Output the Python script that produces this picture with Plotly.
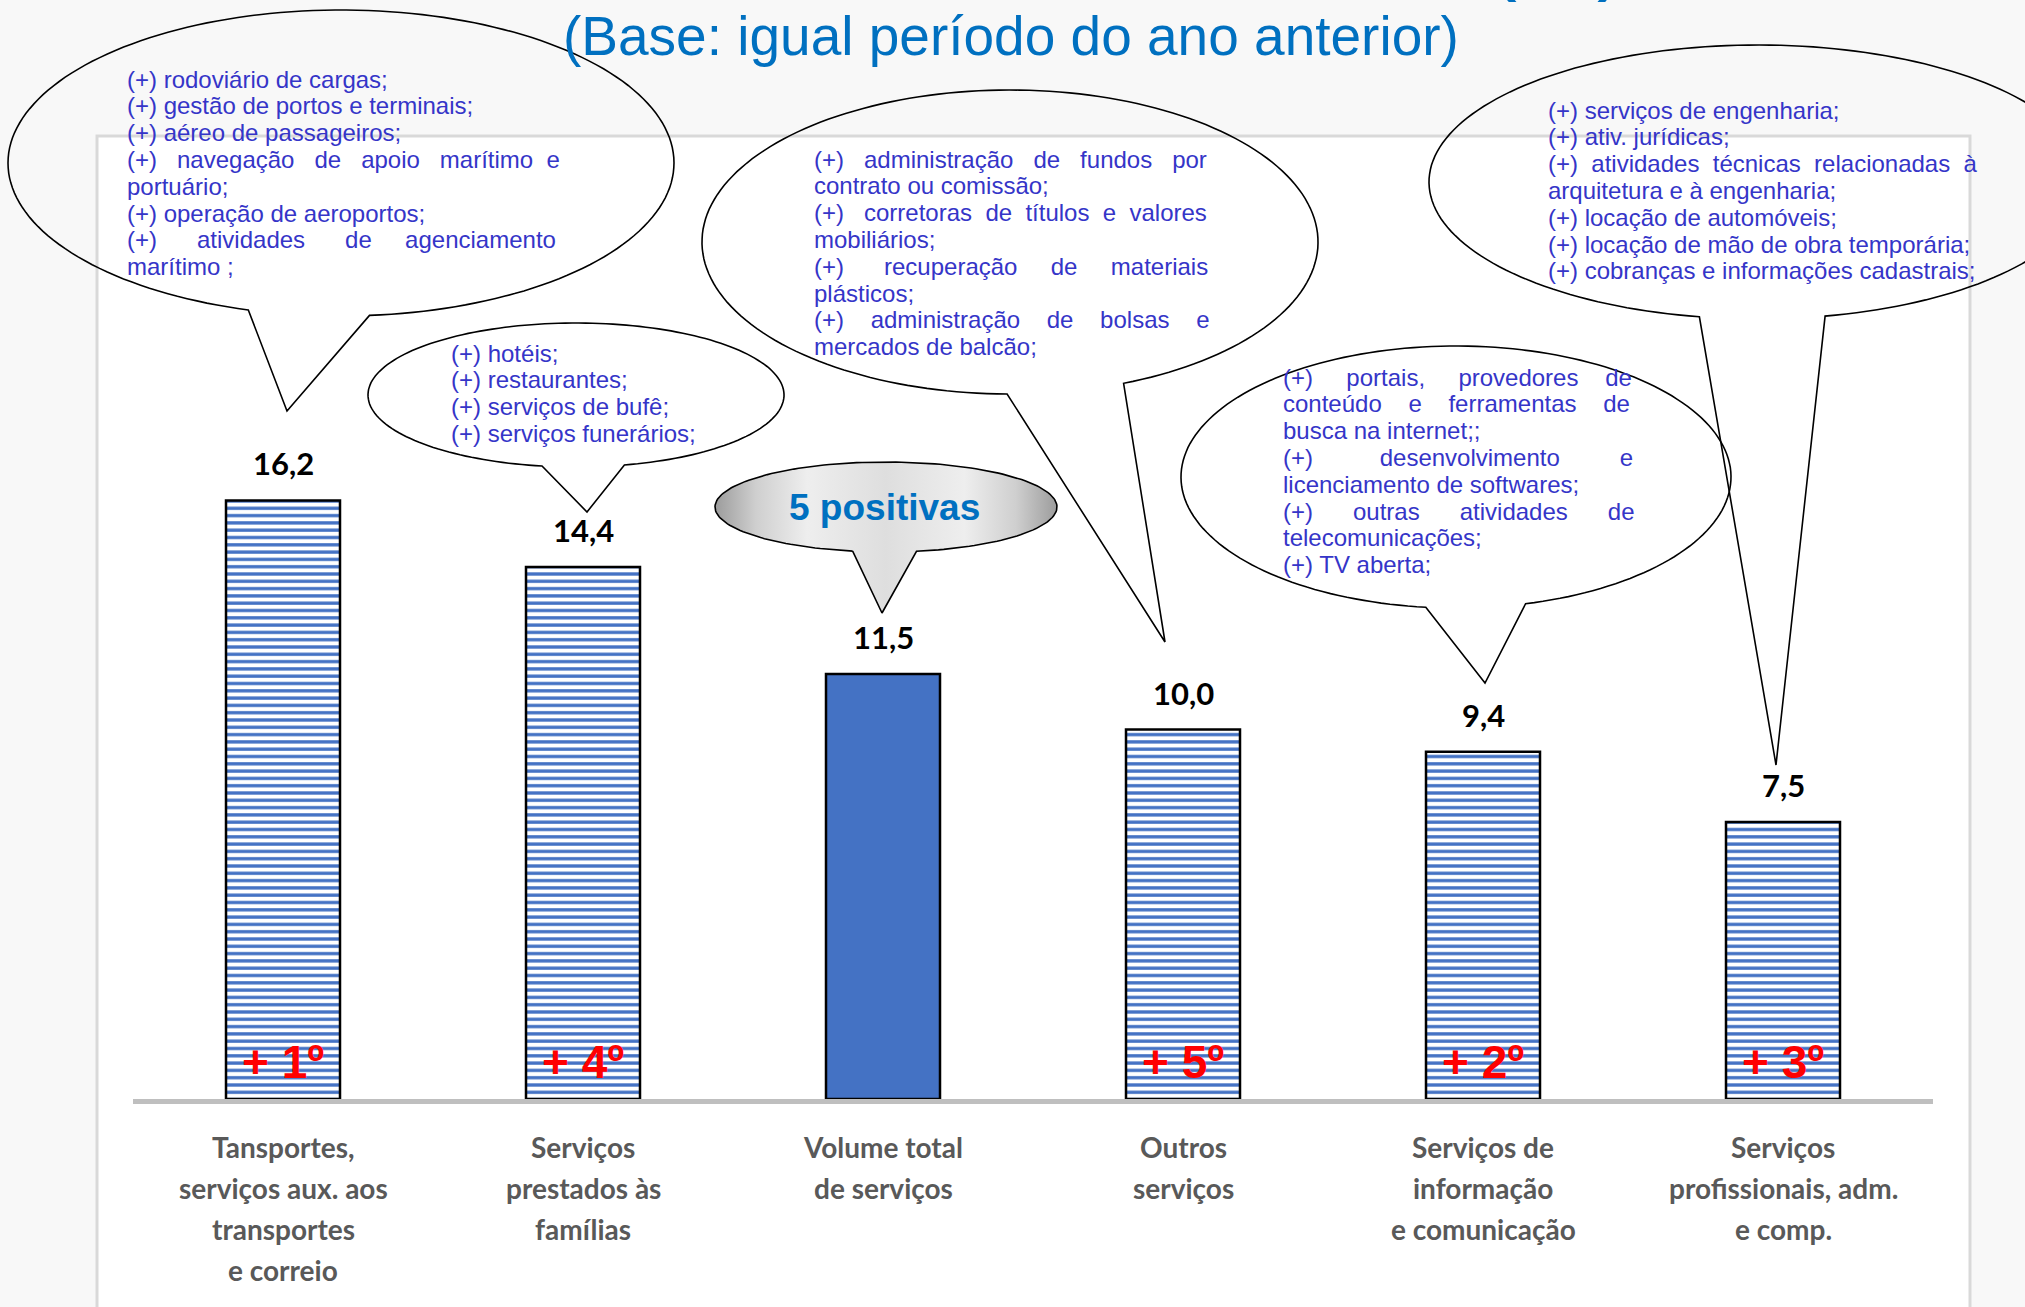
import unicodedata
import numpy as np
import plotly.graph_objects as go

W, H = 2025, 1307

# categorias (rótulos em linhas, como no gráfico)
category_lines = [
    ["Tansportes,", "serviços aux. aos", "transportes", "e correio"],
    ["Serviços", "prestados às", "famílias"],
    ["Volume total", "de serviços"],
    ["Outros", "serviços"],
    ["Serviços de", "informação", "e comunicação"],
    ["Serviços", "profissionais, adm.", "e comp."],
]
categories = [" ".join(l) for l in category_lines]
values = [16.2, 14.4, 11.5, 10.0, 9.4, 7.5]
value_labels = ["16,2", "14,4", "11,5", "10,0", "9,4", "7,5"]
ranks = ["+ 1º", "+ 4º", "", "+ 5º", "+ 2º", "+ 3º"]
bar_patterns = ["-", "-", "", "-", "-", "-"]

# textos dos balões: (linha, justificada?)
txt_transportes = [
    ("(+) rodoviário de cargas;", 0),
    ("(+) gestão de portos e terminais;", 0),
    ("(+) aéreo de passageiros;", 0),
    ("(+) navegação de apoio marítimo e", 1),
    ("portuário;", 0),
    ("(+) operação de aeroportos;", 0),
    ("(+) atividades de agenciamento", 1),
    ("marítimo ;", 0),
]
txt_familias = [
    ("(+) hotéis;", 0),
    ("(+) restaurantes;", 0),
    ("(+) serviços de bufê;", 0),
    ("(+) serviços funerários;", 0),
]
txt_outros = [
    ("(+) administração de fundos por", 1),
    ("contrato ou comissão;", 0),
    ("(+) corretoras de títulos e valores", 1),
    ("mobiliários;", 0),
    ("(+) recuperação de materiais", 1),
    ("plásticos;", 0),
    ("(+) administração de bolsas e", 1),
    ("mercados de balcão;", 0),
]
txt_profissionais = [
    ("(+) serviços de engenharia;", 0),
    ("(+) ativ. jurídicas;", 0),
    ("(+) atividades técnicas relacionadas à", 1),
    ("arquitetura e à engenharia;", 0),
    ("(+) locação de automóveis;", 0),
    ("(+) locação de mão de obra temporária;", 0),
    ("(+) cobranças e informações cadastrais;", 0),
]
txt_informacao = [
    ("(+) portais, provedores de", 1),
    ("conteúdo e ferramentas de", 1),
    ("busca na internet;;", 0),
    ("(+) desenvolvimento e", 1),
    ("licenciamento de softwares;", 0),
    ("(+) outras atividades de", 1),
    ("telecomunicações;", 0),
    ("(+) TV aberta;", 0),
]

BLUE = "#4472c4"
TXT = "#3535c8"
ARIAL = "Liberation Sans, Arial, sans-serif"
CALI = "Lato, Carlito, Calibri, sans-serif"

# larguras aproximadas da Arial (1/1000 em) para justificar o texto
_w = {}
for ch in "abdeghnopqu":
    _w[ch] = 556
for ch in "cksvxyz":
    _w[ch] = 500
for ch in "ijl":
    _w[ch] = 222
for ch in "ft ;,.:":
    _w[ch] = 278
_w.update({"m": 833, "r": 333, "w": 722, "(": 333, ")": 333, "+": 584, "T": 611, "V": 667})


def text_w(s, size):
    tot = 0
    for ch in s:
        if ch in _w:
            tot += _w[ch]
        elif ch == "í":
            tot += 278
        else:
            tot += _w.get(unicodedata.normalize("NFD", ch)[0], 556)
    return tot * size / 1000


def justify(line, width, size):
    words = line.split(" ")
    gaps = len(words) - 1
    if gaps < 1:
        return line
    natural = sum(text_w(w, size) for w in words)
    sp = 278 * size / 1000
    n_sp = max(gaps, int(round((width - natural) / sp)))
    out = words[0]
    for i, w in enumerate(words[1:]):
        k = n_sp // gaps + (1 if i < n_sp % gaps else 0)
        out += "\u00a0" * k + w
    return out


def bubble(cx, cy, rx, ry, b_left, b_right, tip, n=180):
    t0 = np.arctan2((b_left[1] - cy) / ry, (b_left[0] - cx) / rx)
    t1 = np.arctan2((b_right[1] - cy) / ry, (b_right[0] - cx) / rx)
    if t1 < t0:
        t1 += 2 * np.pi
    ts = np.linspace(t0, t1, n)
    xs = list(cx + rx * np.cos(ts)) + [tip[0], cx + rx * np.cos(t0)]
    ys = list(cy + ry * np.sin(ts)) + [tip[1], cy + ry * np.sin(t0)]
    return xs, ys


def to_path(xs, ys):
    pts = ["%.1f,%.1f" % (x, y) for x, y in zip(xs, ys)]
    return "M" + " L".join(pts) + " Z"


fig = go.Figure()

# barras: fundo azul com listras brancas (total sem padrão)
fig.add_trace(go.Bar(
    x=categories, y=values, width=0.38,
    marker=dict(color=BLUE, line=dict(color="black", width=2.5),
                pattern=dict(shape=bar_patterns, fillmode="overlay", fgcolor="white",
                             fgopacity=1, size=7.3, solidity=0.55)),
    hoverinfo="skip", showlegend=False, xaxis="x", yaxis="y",
))

# balão "5 positivas" com degradê (camada em pixels)
bx, by = bubble(886, 507, 171, 45, (852, 552), (917, 552), (882, 613))
fig.add_trace(go.Scatter(
    x=bx, y=by, mode="lines", fill="toself",
    fillgradient=dict(type="horizontal", colorscale=[
        [0, "#9c9c9c"], [0.12, "#cfcfcf"], [0.27, "#eeeeee"], [0.5, "#dedede"],
        [0.73, "#eeeeee"], [0.88, "#cfcfcf"], [1, "#9c9c9c"]]),
    line=dict(color="black", width=1.6),
    hoverinfo="skip", showlegend=False, xaxis="x2", yaxis="y2",
))

# contornos dos balões
bubbles = [
    (341, 163, 333, 153, (247, 312), (370, 318), (287, 411)),
    (576, 395, 208, 72, (543, 464), (623, 463), (587, 512)),
    (1010, 242, 308, 152, (1007, 398), (1125, 385), (1165, 642)),
    (1758, 182, 329, 137, (1698, 320), (1827, 320), (1776, 765)),
    (1456, 477, 275, 131, (1424, 615), (1529, 610), (1485, 683)),
]
shapes = [dict(type="rect", xref="paper", yref="paper", x0=97 / W, x1=1970 / W,
               y0=-0.02, y1=(H - 136) / H, fillcolor="white",
               line=dict(color="#d9d9d9", width=3), layer="below")]
for b in bubbles:
    xs, ys = bubble(*b)
    shapes.append(dict(type="path", path=to_path(xs, ys), xref="x2", yref="y2",
                       line=dict(color="black", width=1.6),
                       fillcolor="rgba(0,0,0,0)", layer="above"))


def add_text_block(lines, left, right, y0, dy=26.8, size=24):
    for i, (s, j) in enumerate(lines):
        if j:
            s = justify(s, right - left, size)
        fig.add_annotation(x=left, y=y0 + i * dy, xref="x2", yref="y2", text=s,
                           xanchor="left", yanchor="middle", showarrow=False,
                           font=dict(family=ARIAL, size=size, color=TXT))


add_text_block(txt_transportes, 125, 557, 79)
add_text_block(txt_familias, 449, 700, 353)
add_text_block(txt_outros, 812, 1208, 159)
add_text_block(txt_profissionais, 1546, 1973, 110)
add_text_block(txt_informacao, 1281, 1631, 377)

# título
fig.add_annotation(x=1011, y=36, xref="x2", yref="y2", text="(Base: igual período do ano anterior)",
                   showarrow=False, xanchor="center", yanchor="middle",
                   font=dict(family=ARIAL, size=55, color="#0070c0"))
fig.add_annotation(x=1557, y=4, xref="x2", yref="y2", text="(%)",
                   showarrow=False, xanchor="center", yanchor="bottom",
                   font=dict(family=ARIAL, size=90, color="#0070c0"))
fig.add_annotation(x=884, y=507, xref="x2", yref="y2", text="<b>5 positivas</b>",
                   showarrow=False, xanchor="center", yanchor="middle",
                   font=dict(family=ARIAL, size=37, color="#0070c0"))

# rótulos de valor, posição e categorias
for c, v, lab, rk, lines in zip(categories, values, value_labels, ranks, category_lines):
    fig.add_annotation(x=c, y=v, xref="x", yref="y", text="<b>" + lab + "</b>",
                       showarrow=False, yanchor="middle", yshift=37,
                       font=dict(family=CALI, size=31, color="black"))
    if rk:
        fig.add_annotation(x=c, y=0, xref="x", yref="y", text="<b>" + rk + "</b>",
                           showarrow=False, yanchor="middle", yshift=37,
                           font=dict(family=ARIAL, size=46, color="#ff0000"))
    for i, ln in enumerate(lines):
        fig.add_annotation(x=c, y=0, xref="x", yref="y", text="<b>" + ln + "</b>",
                           showarrow=False, yanchor="middle", yshift=-48 - 41 * i,
                           font=dict(family=CALI, size=28, color="#595959"))

fig.update_layout(
    width=W, height=H,
    margin=dict(l=0, r=0, t=0, b=0),
    paper_bgcolor="#f8f8f8",
    plot_bgcolor="rgba(0,0,0,0)",
    shapes=shapes,
    xaxis=dict(domain=[133 / W, 1933 / W], range=[-0.5, 5.5], anchor="y",
               showline=True, linecolor="#bfbfbf", linewidth=5,
               showticklabels=False, ticks="", showgrid=False, zeroline=False),
    yaxis=dict(domain=[(H - 1099) / H, (H - 136) / H], range=[0, (1099 - 136) / 36.95],
               anchor="x", visible=False),
    xaxis2=dict(domain=[0, 1], range=[0, W], anchor="y2", visible=False),
    yaxis2=dict(domain=[0, 1], range=[H, 0], anchor="x2", visible=False),
    showlegend=False,
)

fig.write_html("out.html", config={"displayModeBar": False},
               post_script="document.body.style.margin='0px';document.body.style.overflow='hidden';")
